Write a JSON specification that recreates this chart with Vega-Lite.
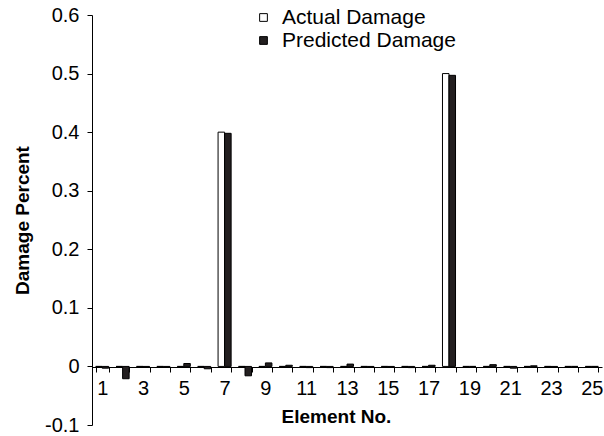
{
  "$schema": "https://vega.github.io/schema/vega-lite/v6.json",
  "width": 510,
  "height": 410,
  "autosize": {"type": "none"},
  "padding": {"left": 92, "top": 15, "right": 2, "bottom": 11},
  "background": "white",
  "config": {
    "view": {"stroke": null},
    "font": "Liberation Sans",
    "axis": {"domainColor": "black", "tickColor": "black", "labelColor": "black", "titleColor": "black", "grid": false, "labelFont": "Liberation Sans", "titleFont": "Liberation Sans"},
    "legend": {"labelFont": "Liberation Sans"}
  },
  "data": {
    "values": [
      {"elem": 1, "series": "Actual Damage", "value": 0}, {"elem": 1, "series": "Predicted Damage", "value": -0.003},
      {"elem": 2, "series": "Actual Damage", "value": 0}, {"elem": 2, "series": "Predicted Damage", "value": -0.021},
      {"elem": 3, "series": "Actual Damage", "value": 0}, {"elem": 3, "series": "Predicted Damage", "value": -0.001},
      {"elem": 4, "series": "Actual Damage", "value": 0}, {"elem": 4, "series": "Predicted Damage", "value": -0.001},
      {"elem": 5, "series": "Actual Damage", "value": 0}, {"elem": 5, "series": "Predicted Damage", "value": 0.005},
      {"elem": 6, "series": "Actual Damage", "value": 0}, {"elem": 6, "series": "Predicted Damage", "value": -0.004},
      {"elem": 7, "series": "Actual Damage", "value": 0.4}, {"elem": 7, "series": "Predicted Damage", "value": 0.398},
      {"elem": 8, "series": "Actual Damage", "value": 0}, {"elem": 8, "series": "Predicted Damage", "value": -0.016},
      {"elem": 9, "series": "Actual Damage", "value": 0}, {"elem": 9, "series": "Predicted Damage", "value": 0.006},
      {"elem": 10, "series": "Actual Damage", "value": 0}, {"elem": 10, "series": "Predicted Damage", "value": 0.002},
      {"elem": 11, "series": "Actual Damage", "value": 0}, {"elem": 11, "series": "Predicted Damage", "value": -0.002},
      {"elem": 12, "series": "Actual Damage", "value": 0}, {"elem": 12, "series": "Predicted Damage", "value": -0.002},
      {"elem": 13, "series": "Actual Damage", "value": 0}, {"elem": 13, "series": "Predicted Damage", "value": 0.004},
      {"elem": 14, "series": "Actual Damage", "value": 0}, {"elem": 14, "series": "Predicted Damage", "value": -0.001},
      {"elem": 15, "series": "Actual Damage", "value": 0}, {"elem": 15, "series": "Predicted Damage", "value": -0.001},
      {"elem": 16, "series": "Actual Damage", "value": 0}, {"elem": 16, "series": "Predicted Damage", "value": -0.002},
      {"elem": 17, "series": "Actual Damage", "value": 0}, {"elem": 17, "series": "Predicted Damage", "value": 0.002},
      {"elem": 18, "series": "Actual Damage", "value": 0.5}, {"elem": 18, "series": "Predicted Damage", "value": 0.497},
      {"elem": 19, "series": "Actual Damage", "value": 0}, {"elem": 19, "series": "Predicted Damage", "value": 0},
      {"elem": 20, "series": "Actual Damage", "value": 0}, {"elem": 20, "series": "Predicted Damage", "value": 0.003},
      {"elem": 21, "series": "Actual Damage", "value": 0}, {"elem": 21, "series": "Predicted Damage", "value": -0.003},
      {"elem": 22, "series": "Actual Damage", "value": 0}, {"elem": 22, "series": "Predicted Damage", "value": 0.001},
      {"elem": 23, "series": "Actual Damage", "value": 0}, {"elem": 23, "series": "Predicted Damage", "value": -0.001},
      {"elem": 24, "series": "Actual Damage", "value": 0}, {"elem": 24, "series": "Predicted Damage", "value": 0},
      {"elem": 25, "series": "Actual Damage", "value": 0}, {"elem": 25, "series": "Predicted Damage", "value": 0}
    ]
  },
  "mark": {"type": "bar", "stroke": "black", "strokeWidth": 1},
  "encoding": {
    "x": {
      "field": "elem", "type": "ordinal",
      "scale": {"paddingInner": 0.36, "paddingOuter": 0.18},
      "axis": {
        "title": "Element No.", "titleFontSize": 19, "titleFontWeight": "bold", "titlePadding": 9, "titleX": 244,
        "labelAngle": 0, "labelFontSize": 20, "labelPadding": 6, "tickSize": 5, "tickBand": "extent",
        "offset": -58, "labelExpr": "datum.value % 2 == 1 ? datum.label : ''"
      }
    },
    "xOffset": {"field": "series", "type": "nominal", "scale": {"paddingInner": 0}},
    "y": {
      "field": "value", "type": "quantitative",
      "scale": {"domain": [-0.1, 0.6], "nice": false, "zero": false},
      "axis": {
        "title": "Damage Percent", "titleFontSize": 19, "titleFontWeight": "bold", "titlePadding": 12,
        "values": [-0.1, 0, 0.1, 0.2, 0.3, 0.4, 0.5, 0.6],
        "labelFontSize": 20, "labelPadding": 8, "tickSize": 5,
        "labelExpr": "datum.value == 0 ? '0' : (datum.value < 0 ? '-' + format(-datum.value, '.1f') : format(datum.value, '.1f'))"
      }
    },
    "fill": {
      "field": "series", "type": "nominal",
      "scale": {"domain": ["Actual Damage", "Predicted Damage"], "range": ["white", "#231f20"]},
      "legend": {
        "title": null, "orient": "none", "legendX": 161, "legendY": -8, "padding": 0,
        "symbolType": "square", "symbolSize": 60, "symbolStrokeColor": "black", "symbolStrokeWidth": 1,
        "labelFontSize": 21, "labelColor": "black", "labelOffset": 8, "rowPadding": 1, "labelLimit": 400
      }
    }
  }
}
